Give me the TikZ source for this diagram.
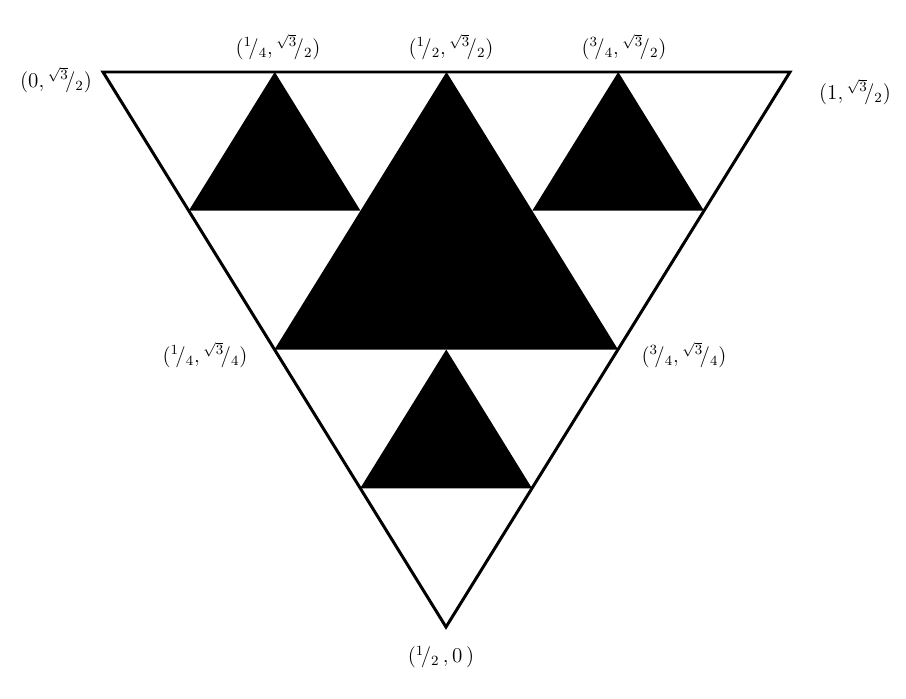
\documentclass[tikz,border=0pt]{standalone}
\usepackage{amsmath}
\usetikzlibrary{calc}
\newcommand{\fr}[2]{{}^{#1}\!/_{#2}}
\tikzset{
  outline/.style={draw=black, line width=1.7pt, line join=miter},
  hole/.style={fill=black},
  coord/.style={font=\large, inner sep=1pt},
}
\begin{document}
\begin{tikzpicture}[x=0.02cm, y=-0.02cm]
\useasboundingbox (0,0) rectangle (906,699);
% corners of the outer triangle
\coordinate (TL) at (103,72);
\coordinate (TR) at (790,72);
\coordinate (B) at (446,627);
% midpoints and quarter points
\coordinate (TM) at ($(TL)!0.5!(TR)$);
\coordinate (LM) at ($(TL)!0.5!(B)$);
\coordinate (RM) at ($(TR)!0.5!(B)$);
\coordinate (TQ1) at ($(TL)!0.5!(TM)$);
\coordinate (TQ3) at ($(TM)!0.5!(TR)$);
\coordinate (LQ1) at ($(TL)!0.5!(LM)$);
\coordinate (RQ1) at ($(TR)!0.5!(RM)$);
\coordinate (LQ3) at ($(LM)!0.5!(B)$);
\coordinate (RQ3) at ($(RM)!0.5!(B)$);
% black triangles
\fill[hole] (TM) -- (LM) -- (RM) -- cycle;
\fill[hole] (TQ1) -- (LQ1) -- ($(TM)!0.5!(LM)$) -- cycle;
\fill[hole] (TQ3) -- ($(TM)!0.5!(RM)$) -- (RQ1) -- cycle;
\fill[hole] ($(LM)!0.5!(RM)$) -- (LQ3) -- (RQ3) -- cycle;
% outer triangle
\draw[outline] (TL) -- (TR) -- (B) -- cycle;
% labels
\node[coord] (lTL) at (56,80) {$(0,\fr{\sqrt{3}}{2})$};
\node[coord] (lTQ1) at (278,47) {$(\fr{1}{4},\fr{\sqrt{3}}{2})$};
\node[coord] (lTM) at (451,47) {$(\fr{1}{2},\fr{\sqrt{3}}{2})$};
\node[coord] (lTQ3) at (624,47) {$(\fr{3}{4},\fr{\sqrt{3}}{2})$};
\node[coord] (lTR) at (855,92) {$(1,\fr{\sqrt{3}}{2})$};
\node[coord] (lLM) at (205,355) {$(\fr{1}{4},\fr{\sqrt{3}}{4})$};
\node[coord] (lRM) at (684,355) {$(\fr{3}{4},\fr{\sqrt{3}}{4})$};
\node[coord] (lB) at (441,657) {$(\fr{1}{2}\,,0\,)$};
\end{tikzpicture}
\end{document}
